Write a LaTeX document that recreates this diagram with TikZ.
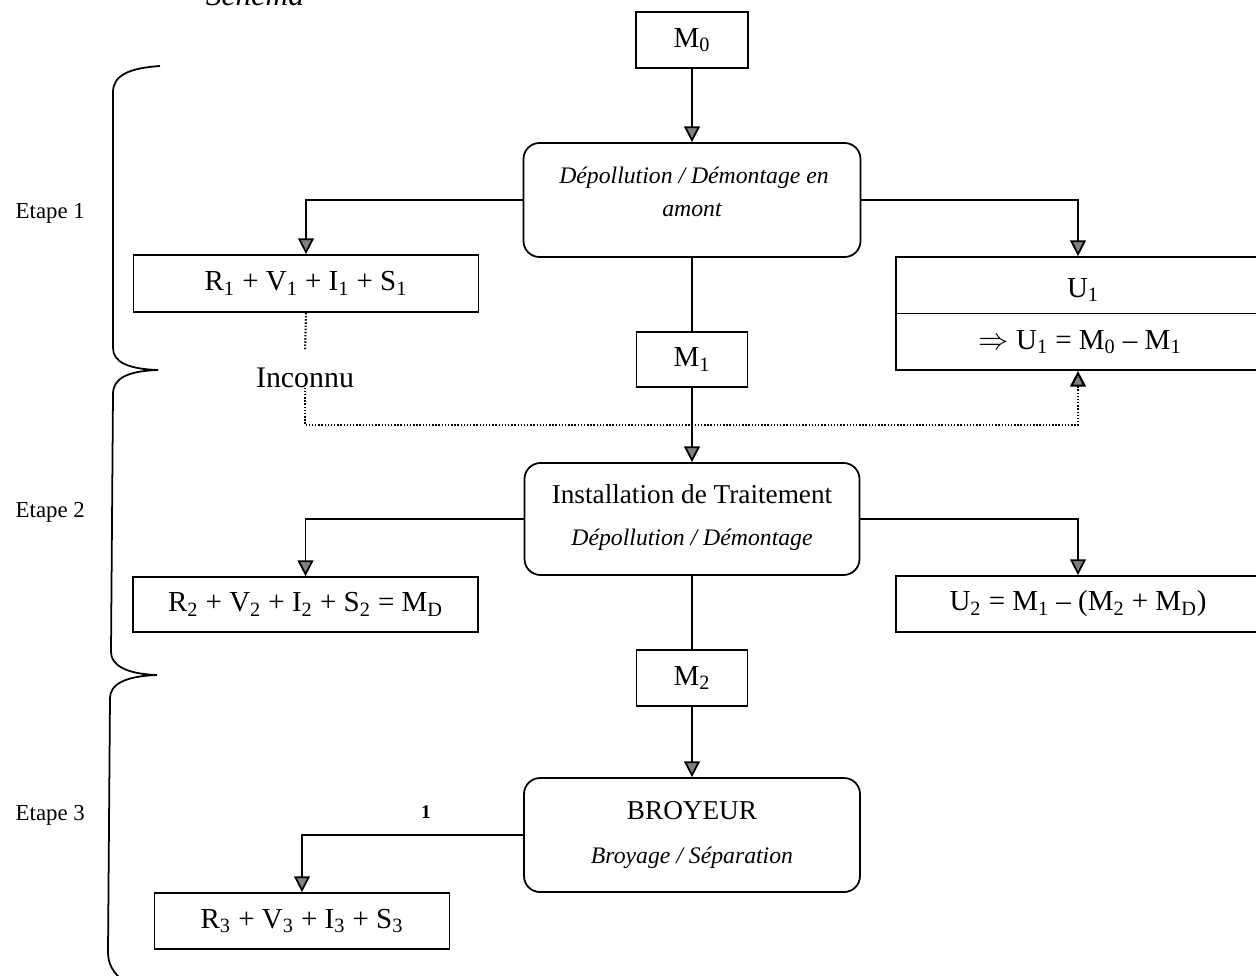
\documentclass[tikz,border=0pt]{standalone}
\usepackage{fontspec}
\setmainfont{Liberation Serif}
\usetikzlibrary{arrows.meta}
\newcommand{\sbs}[1]{\textsubscript{#1}}
\begin{document}
\begin{tikzpicture}[x=0.2mm,y=-0.2mm,
  line width=1pt,
  arr/.style={-{Triangle[width=9pt,length=9pt,fill=gray]}},
  dots/.style={line width=1.2pt,dash pattern=on 0.8pt off 1pt},
  mathtxt/.style={font=\fontsize{16.5}{19}\selectfont},
  sq/.style={draw,rectangle,inner sep=0pt,mathtxt},
  rnd/.style={draw,rectangle,rounded corners=3.2mm,inner sep=0pt,align=center},
  etape/.style={font=\fontsize{13}{16}\selectfont,anchor=west},
  ital/.style={font=\itshape\fontsize{13.5}{16}\selectfont},
  rom/.style={font=\fontsize{15.5}{18}\selectfont}]
\useasboundingbox (0,0) rectangle (1256,975);

% title (cut off at top, as in the source)
\node[font=\itshape\fontsize{18}{21}\selectfont,anchor=base] (title) at (255,5) {Schéma};

% braces
\draw (160,66) .. controls (130,68) and (113,75) .. (113,92)
  -- (113,348) .. controls (113,362) and (128,369) .. (158,370)
  .. controls (128,371) and (113,378) .. (113,394)
  -- (111,652) .. controls (111,665) and (126,674) .. (157,675)
  .. controls (126,676) and (110,684) .. (110,698)
  -- (108,952) .. controls (108,964) and (113,972) .. (122,980);

% stage labels
\node[etape] (e1) at (9,213) {Etape 1};
\node[etape] (e2) at (9,512) {Etape 2};
\node[etape] (e3) at (9,815) {Etape 3};

% central column
\node[sq,minimum width=22.4mm,minimum height=11.2mm] (M0) at (692,40) {M\sbs{0}};
\node[rnd,minimum width=67.4mm,minimum height=22.8mm] (A) at (692,200) {};
\node[ital] (Aa) at (694,178) {Dépollution / Démontage en};
\node[ital] (Ab) at (692,210) {amont};
\node[sq,minimum width=22.2mm,minimum height=11mm] (M1) at (692,359.5) {M\sbs{1}};
\node[rnd,minimum width=67mm,minimum height=22.4mm] (I) at (692,519) {};
\node[rom] (Ia) at (692,494) {Installation de Traitement};
\node[ital] (Ib) at (692,540) {Dépollution / Démontage};
\node[sq,minimum width=22.2mm,minimum height=11.2mm] (M2) at (692,678) {M\sbs{2}};
\node[rnd,minimum width=67.2mm,minimum height=22.8mm] (B) at (692,835) {};
\node[rom] (Ba) at (692,811) {BROYEUR};
\node[ital] (Bb) at (692,858) {Broyage / Séparation};

% left column
\node[sq,minimum width=69mm,minimum height=11.4mm] (R1) at (306,283.5) {R\sbs{1} + V\sbs{1} + I\sbs{1} + S\sbs{1}};
\node[sq,minimum width=69mm,minimum height=11mm] (R2) at (305.5,604.5) {R\sbs{2} + V\sbs{2} + I\sbs{2} + S\sbs{2} = M\sbs{D}};
\node[sq,minimum width=59mm,minimum height=11.2mm] (R3) at (302,921) {R\sbs{3} + V\sbs{3} + I\sbs{3} + S\sbs{3}};

% right column
\node[sq,minimum width=72.8mm,minimum height=22.6mm] (U1) at (1078,313.5) {};
\node[mathtxt] (U1a) at (1083,290) {U\sbs{1}};
\node[mathtxt] (U1b) at (1080,342) {$\Rightarrow$ U\sbs{1} = M\sbs{0} – M\sbs{1}};
\draw (U1.west) -- (U1.east);
\node[sq,minimum width=72.8mm,minimum height=11.2mm] (U2) at (1078,604) {U\sbs{2} = M\sbs{1} – (M\sbs{2} + M\sbs{D})};

% connectors
\draw[arr] (M0.south) -- (A.north);
\draw (A.south) -- (M1.north);
\draw[arr] (M1.south) -- (I.north);
\draw (I.south) -- (M2.north);
\draw[arr] (M2.south) -- (B.north);
\draw[arr] (A.west) -| (R1.north);
\draw[arr] (A.east) -| (U1.north);
\draw[arr] (I.west) -| (R2.north);
\draw[arr] (I.east) -| (U2.north);
\draw[arr] (B.west) -| (R3.north);
\node[font=\bfseries\fontsize{11}{13}\selectfont] (one) at (426,812) {1};

% unknown dotted link
\node[font=\fontsize{17}{20}\selectfont,inner sep=1pt] (Inc) at (305,378) {Inconnu};
\coordinate (dc) at (305,425);
\draw[dots] (R1.south) -- ([yshift=3mm]Inc.north);
\draw[dots,arr] (Inc.base) -- (dc) -| (U1.south);
\end{tikzpicture}
\end{document}
